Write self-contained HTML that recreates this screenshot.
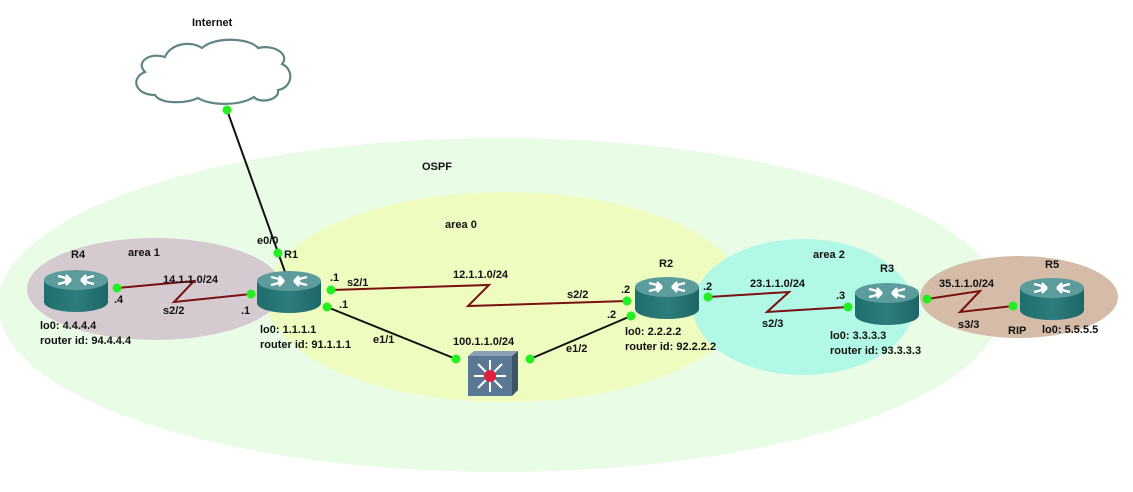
<!DOCTYPE html>
<html><head><meta charset="utf-8"><style>
body{margin:0;background:#fff;width:1133px;height:487px;overflow:hidden}
svg text{font-family:"Liberation Sans",sans-serif;font-size:11px;fill:#111}
</style></head><body>
<svg width="1133" height="487" viewBox="0 0 1133 487">
<defs>
<linearGradient id="rt" x1="0" x2="1"><stop offset="0" stop-color="#1f6e6e"/><stop offset=".5" stop-color="#2e7d7d"/><stop offset="1" stop-color="#1d6666"/></linearGradient>
<g id="router">
<path d="M0 10 L0 32 A32 10 0 0 0 64 32 L64 10 Z" fill="url(#rt)"/>
<ellipse cx="32" cy="10" rx="32" ry="10" fill="#5c9c9c"/>
<g stroke="#fff" stroke-width="2.2" fill="none">
<path d="M14 6 L26 9 M22 5 L26 9 L21 11"/>
<path d="M50 14 L38 11 M42 15 L38 11 L43 9"/>
<path d="M50 6 L38 9 M42 5 L38 9 L43 11"/>
<path d="M14 14 L26 11 M22 15 L26 11 L21 9"/>
</g>
</g>
</defs>
<ellipse cx="500" cy="305" rx="502" ry="167" fill="#e9fce6"/>
<ellipse cx="506" cy="297" rx="240" ry="105" fill="#eefcc0"/>
<ellipse cx="155" cy="289" rx="128" ry="51" fill="#d6cad1"/>
<ellipse cx="803" cy="307" rx="110" ry="68" fill="#b2f8e6"/>
<ellipse cx="1019" cy="297" rx="99" ry="41" fill="#d4bca8"/>
<!-- cloud -->
<path d="M155 95 C135 95 130 78 145 72 C135 62 150 52 165 57 C170 44 190 40 202 48 C215 36 250 38 258 48 C275 44 290 55 282 64 C295 70 292 88 278 90 C280 100 260 104 254 97 C240 106 210 106 198 98 C185 104 160 104 155 95 Z" fill="#fff" stroke="#5f8585" stroke-width="2.2"/>
<text x="192" y="26" font-weight="bold">Internet</text>
<!-- links -->
<g fill="none" stroke-width="2">
<line x1="227" y1="110" x2="285" y2="272" stroke="#111"/>
<line x1="327" y1="307" x2="456" y2="359" stroke="#111"/>
<line x1="530" y1="359" x2="631" y2="316" stroke="#111"/>
<polyline points="117,288 194,281 174,302 251,294" stroke="#7a1010"/>
<polyline points="331,290 489,285 468,306 627,301" stroke="#7a1010"/>
<polyline points="708,297 789,292 767,312 848,307" stroke="#7a1010"/>
<polyline points="927,299 980,291 960,312 1013,306" stroke="#7a1010"/>
</g>
<use href="#router" x="44" y="270"/>
<use href="#router" x="257" y="271"/>
<use href="#router" x="635" y="277"/>
<use href="#router" x="855" y="283"/>
<use href="#router" x="1020" y="278"/>
<!-- switch -->
<polygon points="468,356 474,351 518,351 512,356" fill="#8aa0b8"/>
<polygon points="512,356 518,351 518,390 512,396" fill="#3e5468"/>
<rect x="468" y="356" width="44" height="40" fill="#5a7894"/>
<g stroke="#fff" stroke-width="2"><line x1="474" y1="376" x2="506" y2="376"/><line x1="490" y1="360" x2="490" y2="392"/><line x1="478" y1="364" x2="502" y2="388"/><line x1="502" y1="364" x2="478" y2="388"/></g>
<circle cx="490" cy="376" r="6" fill="#e0203a"/>
<!-- dots -->
<g fill="#22ee22">
<circle cx="227" cy="110" r="4.5"/><circle cx="278" cy="253" r="4.5"/>
<circle cx="117" cy="288" r="4.5"/><circle cx="251" cy="294" r="4.5"/>
<circle cx="331" cy="290" r="4.5"/><circle cx="327" cy="307" r="4.5"/>
<circle cx="456" cy="359" r="4.5"/><circle cx="530" cy="359" r="4.5"/>
<circle cx="627" cy="301" r="4.5"/><circle cx="631" cy="316" r="4.5"/>
<circle cx="708" cy="297" r="4.5"/><circle cx="848" cy="307" r="4.5"/>
<circle cx="927" cy="299" r="4.5"/><circle cx="1013" cy="306" r="4.5"/>
</g>
<!-- labels -->
<g font-weight="bold">
<text x="422" y="170">OSPF</text>
<text x="445" y="228">area 0</text>
<text x="128" y="256">area 1</text>
<text x="813" y="258">area 2</text>
<text x="71" y="258">R4</text>
<text x="284" y="258">R1</text>
<text x="659" y="267">R2</text>
<text x="880" y="272">R3</text>
<text x="1045" y="268">R5</text>
<text x="257" y="244">e0/0</text>
<text x="163" y="283">14.1.1.0/24</text>
<text x="163" y="314">s2/2</text>
<text x="114" y="303">.4</text>
<text x="241" y="314">.1</text>
<text x="330" y="281">.1</text>
<text x="347" y="286">s2/1</text>
<text x="339" y="308">.1</text>
<text x="453" y="278">12.1.1.0/24</text>
<text x="567" y="298">s2/2</text>
<text x="621" y="293">.2</text>
<text x="607" y="318">.2</text>
<text x="703" y="290">.2</text>
<text x="750" y="287">23.1.1.0/24</text>
<text x="762" y="327">s2/3</text>
<text x="836" y="299">.3</text>
<text x="939" y="287">35.1.1.0/24</text>
<text x="958" y="328">s3/3</text>
<text x="1008" y="334">RIP</text>
<text x="373" y="343">e1/1</text>
<text x="453" y="345">100.1.1.0/24</text>
<text x="566" y="352">e1/2</text>
<text x="40" y="329">lo0:  4.4.4.4</text>
<text x="40" y="344">router id:  94.4.4.4</text>
<text x="260" y="333">lo0:  1.1.1.1</text>
<text x="260" y="348">router id:  91.1.1.1</text>
<text x="625" y="335">lo0:  2.2.2.2</text>
<text x="625" y="350">router id:  92.2.2.2</text>
<text x="830" y="339">lo0:  3.3.3.3</text>
<text x="830" y="354">router id:  93.3.3.3</text>
<text x="1042" y="333">lo0:  5.5.5.5</text>
</g>
</svg>
</body></html>
